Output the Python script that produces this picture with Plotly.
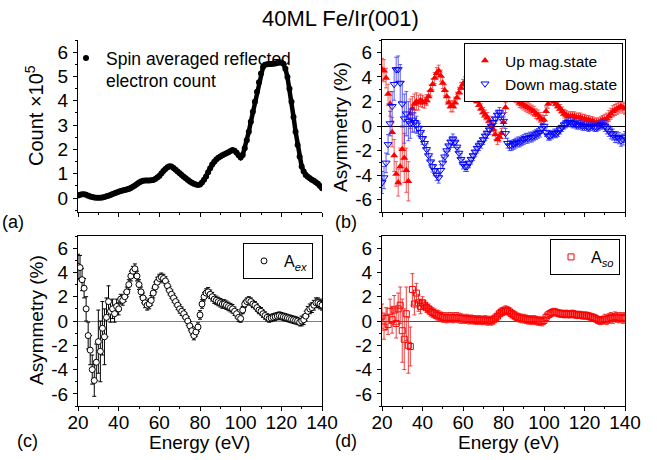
import plotly.graph_objects as go
from plotly.subplots import make_subplots

# energy grid (eV)
energy = list(range(20, 141))

# (a) spin averaged reflected electron count, x10^5
count = [
    0.11, 0.14, 0.16, 0.16, 0.14, 0.10, 0.07, 0.05, 0.03, 0.02,
    0.02, 0.02, 0.03, 0.05, 0.08, 0.10, 0.13, 0.17, 0.20, 0.23,
    0.26, 0.29, 0.31, 0.33, 0.35, 0.38, 0.42, 0.47, 0.52, 0.58,
    0.64, 0.68, 0.71, 0.72, 0.72, 0.72, 0.73, 0.75, 0.79, 0.85,
    0.91, 1.01, 1.12, 1.20, 1.27, 1.31, 1.30, 1.24, 1.17, 1.09,
    1.02, 0.95, 0.88, 0.82, 0.75, 0.68, 0.63, 0.59, 0.56, 0.54,
    0.56, 0.64, 0.76, 0.89, 1.06, 1.23, 1.38, 1.50, 1.59, 1.66,
    1.71, 1.76, 1.80, 1.84, 1.89, 1.94, 1.98, 1.95, 1.87, 1.76,
    1.67, 1.77, 2.05, 2.38, 2.73, 3.14, 3.55, 3.96, 4.37, 4.76,
    5.12, 5.39, 5.48, 5.50, 5.51, 5.51, 5.52, 5.53, 5.55, 5.58,
    5.58, 5.52, 5.32, 4.98, 4.50, 3.96, 3.34, 2.73, 2.18, 1.70,
    1.30, 1.09, 0.95, 0.88, 0.82, 0.76, 0.71, 0.65, 0.59, 0.50, 0.41,
]

# (b) asymmetry for up / down magnetization (%)
up_state = [
    4.6, 4.5, 3.9, 2.6, 1.8, -0.5, -2.4, -3.9, -4.6, -3.3,
    -1.9, -2.6, -3.6, -4.5, 1.0, 1.4, 1.8, 2.0, 1.9, 2.1,
    2.0, 1.9, 2.1, 2.4, 2.9, 3.4, 3.9, 4.3, 4.5, 4.1,
    3.5, 2.9, 2.4, 1.9, 1.6, 1.6, 1.9, 2.3, 2.7, 3.1,
    3.4, 3.6, 3.7, 3.5, 3.1, 2.7, 2.3, 2.0, 1.7, 1.4,
    1.1, 0.9, 0.7, 0.4, 0.1, -0.3, -0.7, -1.1, -0.9, -0.6,
    0.3, 1.5, 2.4, 2.8, 2.9, 2.6, 2.3, 2.1, 1.9, 1.8,
    1.7, 1.6, 1.5, 1.4, 1.3, 1.2, 1.0, 0.9, 0.7, 0.5,
    0.5, 1.2, 1.8, 2.1, 2.2, 2.0, 1.8, 1.6, 1.4, 1.2,
    1.0, 0.9, 0.8, 0.8, 0.8, 0.8, 0.7, 0.7, 0.7, 0.6,
    0.6, 0.5, 0.5, 0.4, 0.4, 0.3, 0.3, 0.3, 0.4, 0.5,
    0.5, 0.6, 0.8, 1.0, 1.2, 1.3, 1.4, 1.5, 1.6, 1.5, 1.4,
]
down_state = [
    -4.6, -4.2, -3.0, -1.5, 0.2, 1.6, 3.4, 4.6, 4.6, 3.5,
    1.8, 0.6, 1.0, 0.4, 0.2, 0.5, 0.3, 0.1, -0.2, -0.5,
    -1.0, -1.4, -1.9, -2.4, -2.9, -3.3, -3.6, -4.0, -4.2, -3.6,
    -3.0, -2.5, -2.0, -1.6, -1.3, -1.1, -1.3, -1.7, -2.2, -2.7,
    -3.1, -3.3, -3.3, -3.0, -2.7, -2.4, -2.1, -1.8, -1.6, -1.4,
    -1.1, -0.8, -0.6, -0.3, 0.0, 0.3, 0.6, 0.9, 1.1, 0.9,
    0.4, -0.6, -1.4, -1.6, -1.6, -1.5, -1.4, -1.3, -1.3, -1.2,
    -1.1, -1.0, -1.0, -0.9, -0.9, -0.8, -0.7, -0.6, -0.5, -0.2,
    0.0, -0.5, -0.8, -0.8, -0.7, -0.6, -0.6, -0.5, -0.3, -0.1,
    0.1, 0.2, 0.3, 0.3, 0.2, 0.2, 0.1, 0.1, 0.1, 0.0,
    0.0, 0.0, -0.1, 0.0, 0.0, -0.1, -0.1, 0.0, 0.1, 0.1,
    0.0, -0.2, -0.4, -0.6, -0.7, -0.9, -0.9, -1.0, -1.2, -1.1, -0.9,
]
err_updown = [
    0.9, 0.9, 0.8, 0.8, 1.0, 1.2, 1.3, 1.0, 1.1, 1.5,
    1.8, 2.0, 1.8, 1.6, 1.2, 1.0, 0.8, 0.7, 0.6, 0.5,
    0.5, 0.45, 0.45, 0.45, 0.45, 0.45, 0.45, 0.45, 0.45, 0.45,
    0.45, 0.45, 0.45, 0.45, 0.45, 0.45, 0.45, 0.45, 0.45, 0.45,
    0.4, 0.4, 0.4, 0.4, 0.4, 0.4, 0.4, 0.4, 0.4, 0.4,
    0.4, 0.4, 0.4, 0.4, 0.4, 0.4, 0.4, 0.4, 0.4, 0.4,
    0.4, 0.4, 0.4, 0.4, 0.4, 0.4, 0.4, 0.4, 0.4, 0.4,
    0.4, 0.4, 0.4, 0.4, 0.4, 0.4, 0.4, 0.4, 0.4, 0.4,
    0.35, 0.35, 0.35, 0.35, 0.35, 0.35, 0.35, 0.35, 0.35, 0.35,
    0.35, 0.35, 0.35, 0.35, 0.35, 0.35, 0.35, 0.35, 0.35, 0.35,
    0.35, 0.35, 0.35, 0.35, 0.35, 0.35, 0.35, 0.35, 0.35, 0.35,
    0.45, 0.45, 0.45, 0.45, 0.45, 0.45, 0.45, 0.45, 0.45, 0.45, 0.45,
]

# (c) exchange asymmetry, (d) spin-orbit asymmetry (%)
a_ex = [
    4.5, 4.4, 3.4, 2.7, 1.0, -1.2, -2.4, -4.0, -4.9, -3.4,
    -1.7, -2.5, -0.6, -1.3, 0.3, 1.6, 0.8, 1.0, 0.6, 1.2,
    1.0, 1.8, 1.7, 2.0, 2.4, 3.0, 3.7, 4.1, 4.3, 3.7,
    3.0, 2.4, 1.9, 1.5, 1.3, 1.4, 1.7, 2.3, 2.8, 3.2,
    3.5, 3.6, 3.5, 3.3, 2.9, 2.5, 2.2, 1.9, 1.6, 1.3,
    1.0, 0.8, 0.6, 0.3, 0.0, -0.4, -0.8, -1.2, -0.9, -0.5,
    0.5, 1.4, 2.0, 2.3, 2.4, 2.2, 2.0, 1.8, 1.7, 1.6,
    1.5, 1.4, 1.4, 1.3, 1.2, 1.1, 1.0, 0.8, 0.6, 0.3,
    0.2, 0.9, 1.4, 1.6, 1.7, 1.6, 1.4, 1.3, 1.1, 0.9,
    0.8, 0.6, 0.45, 0.3, 0.2, 0.25, 0.3, 0.35, 0.4, 0.45,
    0.4, 0.35, 0.3, 0.25, 0.2, 0.15, 0.1, 0.05, 0.0, -0.1,
    0.0, 0.1, 0.4, 0.8, 1.0, 1.1, 1.3, 1.5, 1.5, 1.4, 1.3,
]
a_so = [
    0.4, -0.5, 0.2, -0.3, 0.8, 0.1, 0.9, -0.2, 1.0, 1.3,
    -0.8, -1.5, 0.6, -2.0, -2.1, 2.6, 1.4, 2.3, 1.5, 1.2,
    1.5, 1.3, 1.1, 1.0, 0.8, 0.7, 0.6, 0.5, 0.45, 0.35,
    0.3, 0.3, 0.25, 0.3, 0.3, 0.25, 0.3, 0.3, 0.25, 0.2,
    0.2, 0.15, 0.2, 0.1, 0.15, 0.1, 0.1, 0.05, 0.1, 0.05,
    0.05, 0.1, 0.0, 0.05, 0.0, 0.1, 0.25, 0.4, 0.6, 0.75,
    0.8, 0.9, 0.85, 0.75, 0.6, 0.5, 0.4, 0.3, 0.25, 0.2,
    0.2, 0.15, 0.1, 0.1, 0.05, 0.1, 0.05, 0.0, 0.0, -0.05,
    0.05, 0.3, 0.5, 0.6, 0.7, 0.75, 0.7, 0.65, 0.6, 0.6,
    0.55, 0.6, 0.55, 0.55, 0.6, 0.55, 0.5, 0.5, 0.5, 0.45,
    0.45, 0.45, 0.4, 0.35, 0.3, 0.25, 0.15, 0.05, 0.0, 0.1,
    0.15, 0.1, 0.2, 0.3, 0.2, 0.35, 0.3, 0.25, 0.3, 0.2, 0.3,
]
err_ex_so = [
    1.0, 1.0, 0.9, 0.8, 1.0, 1.1, 1.2, 1.2, 1.3, 1.5,
    2.6, 2.5, 2.2, 2.3, 1.6, 1.3, 0.9, 0.8, 0.7, 0.6,
    0.5, 0.4, 0.4, 0.4, 0.4, 0.4, 0.4, 0.4, 0.4, 0.4,
    0.4, 0.4, 0.4, 0.4, 0.4, 0.4, 0.4, 0.4, 0.4, 0.4,
    0.35, 0.35, 0.35, 0.35, 0.35, 0.35, 0.35, 0.35, 0.35, 0.35,
    0.35, 0.35, 0.35, 0.35, 0.35, 0.35, 0.35, 0.35, 0.35, 0.35,
    0.35, 0.35, 0.35, 0.35, 0.35, 0.35, 0.35, 0.35, 0.35, 0.35,
    0.35, 0.35, 0.35, 0.35, 0.35, 0.35, 0.35, 0.35, 0.35, 0.35,
    0.3, 0.3, 0.3, 0.3, 0.3, 0.3, 0.3, 0.3, 0.3, 0.3,
    0.3, 0.3, 0.3, 0.3, 0.3, 0.3, 0.3, 0.3, 0.3, 0.3,
    0.3, 0.3, 0.3, 0.3, 0.3, 0.3, 0.3, 0.3, 0.3, 0.3,
    0.4, 0.4, 0.4, 0.4, 0.4, 0.4, 0.4, 0.4, 0.4, 0.4, 0.4,
]

asym_ticks = [-6, -4, -2, 0, 2, 4, 6]
asym_labels = ["-6", "-4", "-2", "0", "2", "4", "6"]
asym_minor = [-7, -5, -3, -1, 1, 3, 5, 7]

FONT = "Liberation Sans, Arial, sans-serif"
W, H = 657, 460

fig = make_subplots(rows=2, cols=2)

# dense dotted curve: thick line under the dots so it reads as continuous
fig.add_trace(go.Scatter(x=energy, y=count, mode="lines", line=dict(color="black", width=4.5),
                         showlegend=False, hoverinfo="skip"), row=1, col=1)
fig.add_trace(go.Scatter(x=energy, y=count, mode="markers", name="Spin averaged reflected<br>electron count",
                         marker=dict(symbol="circle", size=6, color="black"), legend="legend"), row=1, col=1)

fig.add_trace(go.Scatter(x=energy, y=up_state, mode="markers", name="Up mag.state",
                         marker=dict(symbol="triangle-up", size=7, color="#ff0000"),
                         error_y=dict(type="data", array=err_updown, color="rgba(240,40,40,0.75)", thickness=1, width=2),
                         legend="legend2"), row=1, col=2)
fig.add_trace(go.Scatter(x=energy, y=down_state, mode="markers", name="Down mag.state",
                         marker=dict(symbol="triangle-down-open", size=7, color="#0000ff", line=dict(width=1)),
                         error_y=dict(type="data", array=err_updown, color="rgba(40,40,240,0.75)", thickness=1, width=2),
                         legend="legend2"), row=1, col=2)

fig.add_trace(go.Scatter(x=energy, y=a_ex, mode="markers", name="A<sub><i>ex</i></sub>",
                         marker=dict(symbol="circle", size=6, color="white", line=dict(color="black", width=1)),
                         error_y=dict(type="data", array=err_ex_so, color="black", thickness=1, width=2),
                         legend="legend3"), row=2, col=1)

fig.add_trace(go.Scatter(x=energy, y=a_so, mode="markers", name="A<sub><i>so</i></sub>",
                         marker=dict(symbol="square-open", size=6, color="#ff0000", line=dict(width=1)),
                         error_y=dict(type="data", array=err_ex_so, color="rgba(240,30,30,0.85)", thickness=1, width=2),
                         legend="legend4"), row=2, col=2)

# panel placement in pixels -> paper fractions
col_x = [(78, 322), (382, 625)]
row_y = [(40, 212), (236, 406)]

def xdom(c):
    return [col_x[c][0] / W, col_x[c][1] / W]

def ydom(r):
    return [1 - row_y[r][1] / H, 1 - row_y[r][0] / H]

axis_common = dict(showline=True, linecolor="black", linewidth=1, ticks="outside", ticklen=4,
                   tickcolor="black", showgrid=False, automargin=False,
                   tickfont=dict(size=19, color="black", family=FONT))

for i, (r, c) in enumerate([(0, 0), (0, 1), (1, 0), (1, 1)]):
    xname = "xaxis" if i == 0 else f"xaxis{i + 1}"
    yname = "yaxis" if i == 0 else f"yaxis{i + 1}"
    boxed = i != 0
    fig.layout[xname].update(domain=xdom(c), range=[20, 140], tick0=20, dtick=20, ticklabelstandoff=-5,
                             minor=dict(dtick=10, tick0=20, ticks="outside", ticklen=2, tickcolor="black"),
                             showticklabels=(r == 1), mirror=boxed, zeroline=False, **axis_common)
    fig.layout[yname].update(domain=ydom(r), mirror=boxed, ticklabelstandoff=1, **axis_common)

fig.update_yaxes(range=[-0.57, 6.5], tick0=0, dtick=1, zeroline=False,
                 minor=dict(dtick=0.5, tick0=0, ticks="outside", ticklen=2, tickcolor="black"), row=1, col=1)
zero_colors = {(1, 2): "black", (2, 1): "#808080", (2, 2): "#505050"}
for (r, c), zc in zero_colors.items():
    fig.update_yaxes(range=[-7, 7], tickmode="array", tickvals=asym_ticks, ticktext=asym_labels,
                     minor=dict(tickmode="array", tickvals=asym_minor, ticks="outside", ticklen=2, tickcolor="black"),
                     zeroline=True, zerolinecolor=zc, zerolinewidth=1, row=r, col=c)

def ann(text, x, y, size, angle=0, xanchor="center"):
    fig.add_annotation(text=text, x=x / W, y=1 - y / H, xref="paper", yref="paper", showarrow=False,
                       textangle=angle, xanchor=xanchor, yanchor="middle",
                       font=dict(size=size, color="black", family=FONT))

ann("40ML Fe/Ir(001)", 340, 18, 22)
ann("Count ×10<sup>5</sup>", 34, 116, 20, angle=-90)
ann("Asymmetry (%)", 340, 127, 19, angle=-90)
ann("Asymmetry (%)", 36, 320, 19, angle=-90)
ann("Energy (eV)", 199, 442, 19)
ann("Energy (eV)", 508, 442, 19)
ann("(a)", 13, 222, 18)
ann("(b)", 346, 222, 18)
ann("(c)", 27, 441, 18)
ann("(d)", 346, 441, 18)

legend_font = dict(size=16, color="black", family=FONT)
fig.update_layout(
    width=W, height=H,
    margin=dict(l=0, r=0, t=0, b=0),
    paper_bgcolor="white", plot_bgcolor="white",
    font=dict(family=FONT, color="black"),
    showlegend=True,
    legend=dict(x=66 / W, y=1 - 40 / H, xanchor="left", yanchor="top", bgcolor="rgba(0,0,0,0)",
                borderwidth=0, font=dict(size=17.5, color="black", family=FONT), valign="top"),
    legend2=dict(x=623 / W, y=1 - 43 / H, xanchor="right", yanchor="top", bgcolor="white",
                 bordercolor="black", borderwidth=1, tracegroupgap=0,
                 font=dict(size=15.5, color="black", family=FONT)),
    legend3=dict(x=313 / W, y=1 - 243 / H, xanchor="right", yanchor="top", bgcolor="white",
                 bordercolor="black", borderwidth=1, font=legend_font),
    legend4=dict(x=620 / W, y=1 - 239 / H, xanchor="right", yanchor="top", bgcolor="white",
                 bordercolor="black", borderwidth=1, font=legend_font),
)

# the page body carries a default 8px margin; drop it so the figure sits at the window origin
fig.write_html("out.html", config={"displayModeBar": False},
               post_script="document.body.style.margin = '0';")
